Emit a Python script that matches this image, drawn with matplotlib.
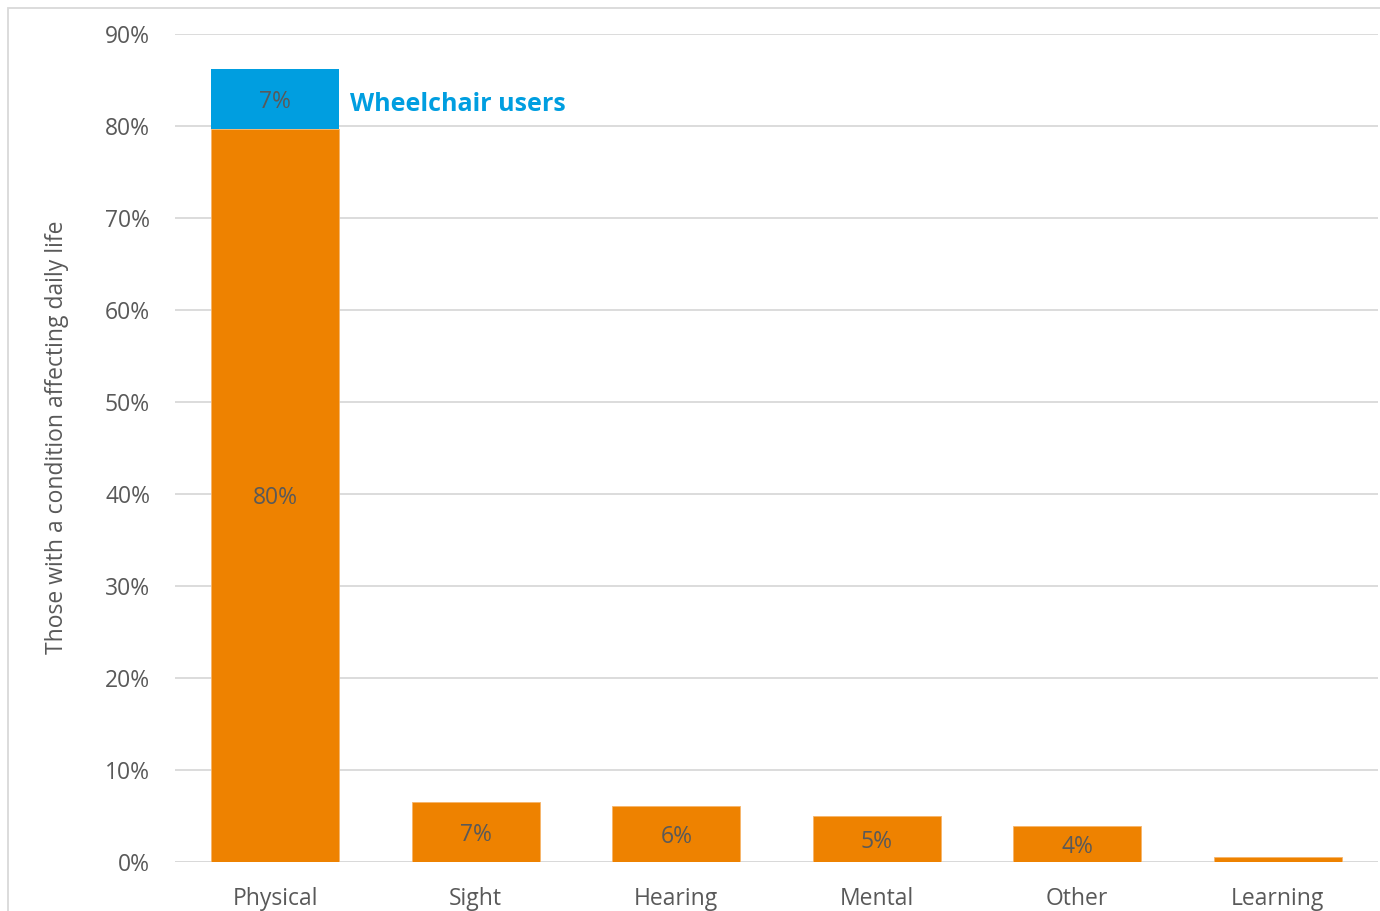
import matplotlib
matplotlib.use("Agg")
import matplotlib.pyplot as plt
from matplotlib.patches import Rectangle
from matplotlib.transforms import offset_copy

categories = ["Physical", "Sight", "Hearing", "Mental", "Other", "Learning"]
condition_pct = [79.7, 6.5, 6.1, 5.0, 3.9, 0.5]
wheelchair_pct = [6.5, 0, 0, 0, 0, 0]
yticks = [0, 10, 20, 30, 40, 50, 60, 70, 80, 90]

ORANGE = "#EE8200"
BLUE = "#009EE0"
GREY = "#595959"

plt.rcParams["font.family"] = ["Open Sans", "DejaVu Sans"]

fig = plt.figure(figsize=(13.8, 9.11), dpi=100)
ax = fig.add_axes([175/1380, 49/911, 1203/1380, 828/911])

x = range(len(categories))
ax.bar(x, condition_pct, width=0.64, color=ORANGE, edgecolor="#F6B56A", linewidth=0.6, zorder=3)
ax.bar(x, wheelchair_pct, width=0.64, bottom=condition_pct, color=BLUE, zorder=3)

def lab(v):
    return f"{int(v + 0.5)}%"

tr = offset_copy(ax.transData, fig=fig, x=0, y=-3, units="dots")
for i, v in enumerate(condition_pct):
    if v >= 2:
        ax.text(i, v / 2, lab(v), ha="center", va="center", color=GREY, fontsize=16.5,
                zorder=4, transform=tr)
for i, (b, w) in enumerate(zip(condition_pct, wheelchair_pct)):
    if w > 0:
        ax.text(i, b + w / 2, lab(w), ha="center", va="center", color=GREY, fontsize=16.5,
                zorder=4, transform=tr)
        ax.text(i + 0.375, b + w * 0.45, "Wheelchair users", ha="left", va="center",
                color=BLUE, fontsize=18, fontweight="bold", zorder=4, transform=tr)

ax.set_xlim(-0.5, len(categories) - 0.5)
ax.set_ylim(0, 90)
ax.set_yticks(yticks)
ax.set_yticklabels([f"{t}%" for t in yticks])
ax.set_xticks(list(x))
ax.set_xticklabels(categories)
ax.tick_params(axis="both", length=0, labelsize=16.5, labelcolor=GREY)
ax.tick_params(axis="y", pad=18)
ax.tick_params(axis="x", pad=18)
ax.grid(axis="y", color="#D9D9D9", linewidth=1.3, zorder=0)
for s in ax.spines.values():
    s.set_visible(False)
ax.axhline(0, color="#D9D9D9", linewidth=1.3, zorder=2)

fig.text(57/1380, 1 - 437/911, "Those with a condition affecting daily life", rotation=90,
         ha="center", va="center", color=GREY, fontsize=16.5)

fig.patches.append(Rectangle((8/1380, -0.05), 1.1, 1 - 8/911 + 0.05, transform=fig.transFigure,
                             fill=False, edgecolor="#D9D9D9", linewidth=1.3))

fig.savefig("out.png", dpi=100)
